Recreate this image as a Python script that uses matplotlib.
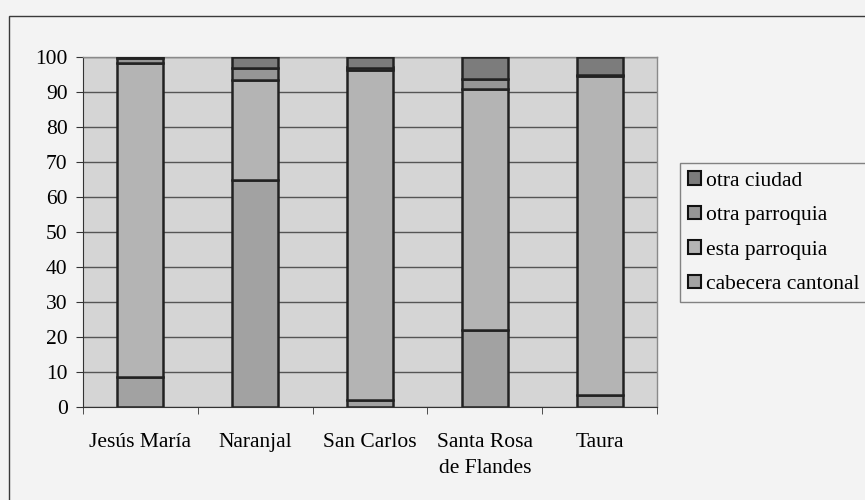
import matplotlib
matplotlib.use("Agg")
import matplotlib.pyplot as plt
import numpy as np
from matplotlib.patches import Rectangle, Patch

categories = ["Jesús María", "Naranjal", "San Carlos", "Santa Rosa\nde Flandes", "Taura"]
series_names = ["cabecera cantonal", "esta parroquia", "otra parroquia", "otra ciudad"]
cabecera_cantonal = [8.5, 65.0, 2.0, 22.0, 3.5]
esta_parroquia = [89.9, 28.5, 94.3, 69.0, 91.2]
otra_parroquia = [1.2, 3.3, 0.7, 2.6, 0.2]
otra_ciudad = [0.4, 3.2, 3.0, 6.4, 5.1]
yticks = list(range(0, 101, 10))

colors = ["#a2a2a2", "#b4b4b4", "#969696", "#7c7c7c"]

plt.rcParams['font.family'] = ['Liberation Serif', 'DejaVu Serif']
FS = 15.5

fig = plt.figure(figsize=(8.65, 5.0), dpi=100)
fig.patch.set_facecolor("#f3f3f3")

# outer chart frame
frame = Rectangle((9/865, -0.5), 2.0, 0.5 + (1 - 16/500), transform=fig.transFigure,
                  fill=False, edgecolor="#3a3a3a", linewidth=1.0)
fig.patches.append(frame)

ax = fig.add_axes([83/865, 1 - 407/500, (657 - 83)/865, (407 - 57)/500])
ax.set_facecolor("#d5d5d5")

x = np.arange(len(categories))
data = [cabecera_cantonal, esta_parroquia, otra_parroquia, otra_ciudad]
bottom = np.zeros(len(categories))
for name, vals, c in zip(series_names, data, colors):
    vals = np.array(vals)
    ax.bar(x, vals, width=0.40, bottom=bottom, color=c, edgecolor="#222222",
           linewidth=1.8, label=name, zorder=3)
    bottom = bottom + vals

ax.set_xlim(-0.5, len(categories) - 0.5)
ax.set_ylim(0, 100)
ax.set_yticks(yticks)
ax.set_yticklabels([str(t) for t in yticks], fontsize=FS)
ax.yaxis.grid(True, color="#555555", linewidth=1.0, zorder=1)
ax.set_axisbelow(True)

ax.set_xticks(x)
ax.set_xticklabels(categories, fontsize=FS, linespacing=1.45)
ax.set_xticks(np.arange(-0.5, len(categories) + 0.5, 1), minor=True)
ax.tick_params(axis='x', which='major', length=0, pad=19)
ax.tick_params(axis='x', which='minor', length=5, direction='out', color="#333333")
ax.tick_params(axis='y', length=5, direction='out', color="#333333", pad=6)

for side in ["top", "right"]:
    ax.spines[side].set_color("#8a8a8a")
    ax.spines[side].set_linewidth(1.0)
ax.spines["left"].set_color("#333333")
ax.spines["bottom"].set_color("#333333")

handles = [Patch(facecolor=c, edgecolor="#111111", linewidth=1.5, label=n)
           for n, c in zip(series_names, colors)][::-1]
leg = fig.legend(handles=handles, loc="upper left",
                 bbox_to_anchor=(680/865, 1 - 163/500), fontsize=FS,
                 frameon=True, fancybox=False, edgecolor="#666666",
                 handlelength=0.6, handleheight=0.6, handletextpad=0.25,
                 labelspacing=0.7, borderpad=0.38, borderaxespad=0)
leg.get_frame().set_facecolor("#f3f3f3")
leg.get_frame().set_linewidth(1.0)

fig.savefig("out.png", dpi=100, facecolor=fig.get_facecolor())
